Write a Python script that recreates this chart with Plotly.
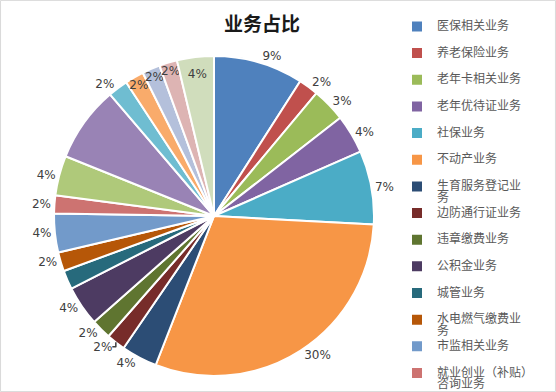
import plotly.graph_objects as go

categories = [
    "医保相关业务", "养老保险业务", "老年卡相关业务", "老年优待证业务", "社保业务",
    "不动产业务", "生育服务登记业|务", "边防通行证业务", "违章缴费业务", "公积金业务",
    "城管业务", "水电燃气缴费业|务", "市监相关业务", "就业创业（补贴）|咨询业务",
    "出入境业务", "税务业务", "残联业务", "民政业务", "户籍业务", "交通业务", "其他业务",
]
values = [9.0, 2.0, 3.4, 3.9, 7.4, 29.9, 3.6, 1.9, 2.0, 4.0, 1.9, 1.9, 3.9, 1.8,
          4.0, 7.6, 2.0, 1.9, 1.8, 1.8, 3.7]
show_label = [True] * 10 + [False] + [True] * 4 + [False] + [True] * 5
label_pos = ["outside"] * 17 + ["inside"] * 4
colors = ["#4F81BD", "#C0504D", "#9BBB59", "#8064A2", "#4BACC6", "#F79646",
          "#2C4D75", "#772C2A", "#5F7530", "#4D3B62", "#276A7C", "#B65708",
          "#729ACA", "#CD7371", "#AFC97A", "#9983B5", "#6FBDD1", "#F9AB6B",
          "#B4C0DB", "#DDB4B3", "#D0DDBC"]

W, H = 556, 392
cx, cy, r = 214, 216, 160


def legend_label(name):
    parts = name.split("|")
    first = "<span style='font-size:12px'>%s</span>" % parts[0]
    second = "<span style='font-size:12px'>%s</span>" % parts[1] if len(parts) > 1 else " "
    return first + "<br>" + second


fig = go.Figure(go.Pie(
    labels=[legend_label(c) for c in categories],
    values=values,
    sort=False,
    direction="clockwise",
    rotation=0,
    marker=dict(colors=colors, line=dict(color="white", width=2)),
    texttemplate=["%{percent:.0%}" if s else "" for s in show_label],
    textposition=label_pos,
    insidetextorientation="horizontal",
    textfont=dict(family="DejaVu Sans, Noto Sans CJK SC", size=12, color="#404040"),
    domain=dict(x=[(cx - r) / W, (cx + r) / W], y=[1 - (cy + r) / H, 1 - (cy - r) / H]),
    automargin=False,
    hoverinfo="percent",
))

fig.update_layout(
    width=W, height=H,
    margin=dict(l=0, r=0, t=0, b=0, autoexpand=False),
    paper_bgcolor="white",
    uniformtext=dict(minsize=12, mode="show"),
    title=dict(text="<b>业务占比</b>", x=262 / W, xanchor="center", y=1 - 24 / H, yanchor="middle",
               font=dict(family="Noto Sans CJK SC", size=19, color="#1a1a1a")),
    legend=dict(x=397 / W, xanchor="left", y=1 - 14 / H, yanchor="top",
                font=dict(family="Noto Sans CJK SC", size=9.1, color="#595959"),
                bgcolor="rgba(0,0,0,0)", itemwidth=30, valign="top", maxheight=3000),
    showlegend=True,
    shapes=[dict(type="rect", xref="paper", yref="paper", x0=0.001, y0=0.001, x1=0.999, y1=0.999,
                 line=dict(color="#D9D9D9", width=1))],
)

fig.write_html("out.html", config={"displayModeBar": False},
               post_script="document.body.style.margin='0';")
